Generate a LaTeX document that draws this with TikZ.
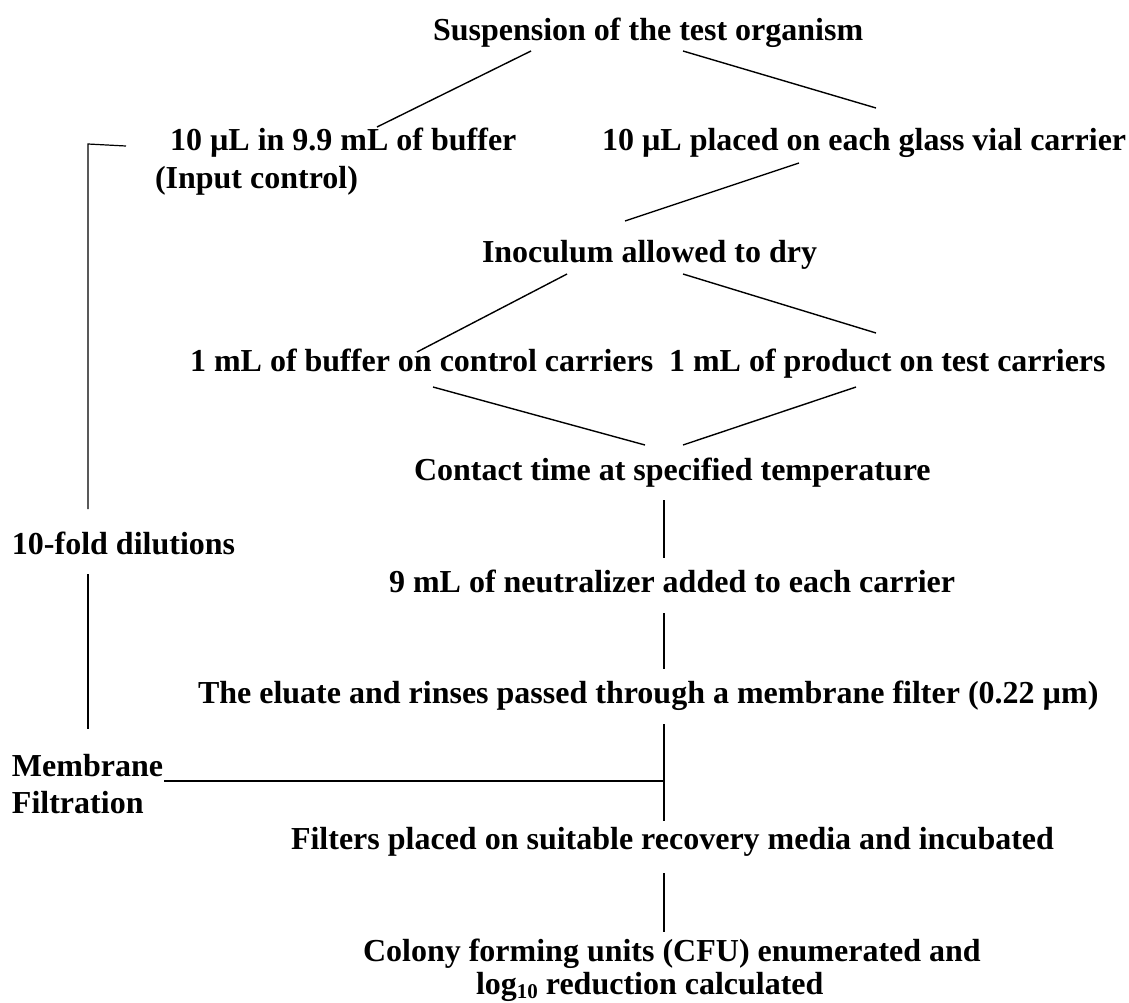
\documentclass[tikz,border=0pt]{standalone}
\usepackage{fontspec}
\setmainfont{Liberation Serif}
\newcommand{\mysubten}{\raisebox{-4pt}{\fontsize{21}{21}\selectfont 10}}
\begin{document}
\begin{tikzpicture}[x=1pt,y=-1pt,
  lbl/.style={anchor=base west,inner sep=0pt,outer sep=0pt,font=\fontsize{32}{38}\selectfont\bfseries},
  conn/.style={line width=1.4pt},
  vconn/.style={line width=1.2pt}]
\useasboundingbox[fill=white] (0,0) rectangle (1129,1002);
% texts
\node[lbl] (title) at (433,40) {Suspension of the test organism};
\node[lbl] (inA) at (170,150) {10 µL in 9.9 mL of buffer};
\node[lbl] (inB) at (155,188) {(Input control)};
\node[lbl] (vial) at (602,150) {10 µL placed on each glass vial carrier};
\node[lbl] (dry) at (482,262) {Inoculum allowed to dry};
\node[lbl] (ctrl) at (190,371) {1 mL of buffer on control carriers};
\node[lbl] (prod) at (669,371) {1 mL of product on test carriers};
\node[lbl] (contact) at (414,480) {Contact time at specified temperature};
\node[lbl] (neut) at (389,592) {9 mL of neutralizer added to each carrier};
\node[lbl] (elu) at (198,703) {The eluate and rinses passed through a membrane filter (0.22 µm)};
\node[lbl] (filt) at (291,849) {Filters placed on suitable recovery media and incubated};
\node[lbl] (cfuA) at (363,961) {Colony forming units (CFU) enumerated and};
\node[lbl] (cfuB) at (476,994) {log\mysubten\ reduction calculated};
\node[lbl] (dil) at (12,554) {10-fold dilutions};
\node[lbl] (memA) at (12,776) {Membrane};
\node[lbl] (memB) at (12,813) {Filtration};
% connector end points
\coordinate (t1) at (531,51);  \coordinate (a1) at (377,127);
\coordinate (t2) at (683,51);  \coordinate (v1) at (876,108);
\coordinate (v2) at (799,163); \coordinate (d1) at (625,221);
\coordinate (d2) at (567,274); \coordinate (c1) at (417,352);
\coordinate (d3) at (683,274); \coordinate (p1) at (876,333);
\coordinate (c2) at (433,387); \coordinate (k1) at (645,445);
\coordinate (p2) at (856,387); \coordinate (k2) at (683,445);
\coordinate (k3) at (664,500); \coordinate (n1) at (664,558);
\coordinate (n2) at (664,613); \coordinate (e1) at (664,669);
\coordinate (e2) at (664,724); \coordinate (f1) at (664,821);
\coordinate (jn) at (664,781); \coordinate (m1) at (164,781);
\coordinate (f2) at (664,873); \coordinate (g1) at (664,932);
\coordinate (b0) at (126,146); \coordinate (b1) at (88,144); \coordinate (b2) at (88,509);
\coordinate (b3) at (88,574); \coordinate (b4) at (88,729);
% connectors
\draw[conn] (t1) -- (a1);
\draw[conn] (t2) -- (v1);
\draw[conn] (v2) -- (d1);
\draw[conn] (d2) -- (c1);
\draw[conn] (d3) -- (p1);
\draw[conn] (c2) -- (k1);
\draw[conn] (p2) -- (k2);
\draw[vconn] (k3) -- (n1);
\draw[vconn] (n2) -- (e1);
\draw[vconn] (e2) -- (f1);
\draw[conn] (m1) -- (jn);
\draw[vconn] (f2) -- (g1);
\draw[vconn] (b0) -- (b1) -- (b2);
\draw[vconn] (b3) -- (b4);
\end{tikzpicture}
\end{document}
